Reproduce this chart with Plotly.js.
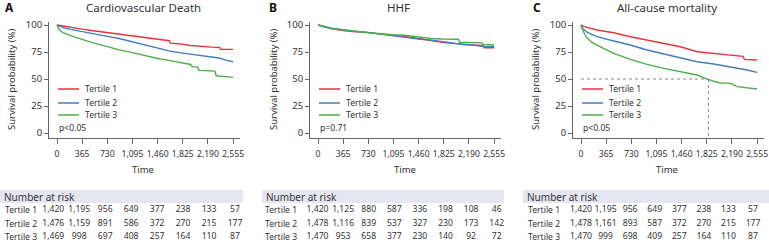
<!DOCTYPE html>
<html>
<head>
<meta charset="utf-8">
<script src="https://cdn.plot.ly/plotly-3.0.1.min.js"></script>
<style>html,body{margin:0;padding:0;background:#fff;}#chart{width:769px;height:243px;}</style>
</head>
<body>
<div id="chart"></div>
<script>
// ---------- DATA ----------
const timeTicks = [0, 365, 730, 1095, 1460, 1825, 2190, 2555];
const timeTickLabels = ['0', '365', '730', '1,095', '1,460', '1,825', '2,190', '2,555'];
const yTicks = [0, 25, 50, 75, 100];
const tertileNames = ['Tertile 1', 'Tertile 2', 'Tertile 3'];
const panelTitles = ['Cardiovascular Death', 'HHF', 'All-cause mortality'];
const panelLetters = ['A', 'B', 'C'];
const pValues = ['p<0.05', 'p=0.71', 'p<0.05'];

// Panel A: Cardiovascular death
const cvdT1Time = [0, 100, 200, 365, 500, 730, 900, 1095, 1250, 1400, 1550, 1630, 1645, 1800, 1930, 2100, 2250, 2360, 2375, 2555];
const cvdT1Surv = [100, 98.8, 97.8, 96.2, 95, 93, 91.6, 90, 88.6, 87.5, 86, 85.5, 83.2, 82.5, 81, 80, 79.5, 79.2, 77.5, 77.5];
const cvdT2Time = [0, 100, 200, 365, 500, 730, 900, 1095, 1250, 1460, 1640, 1825, 2000, 2190, 2350, 2450, 2555];
const cvdT2Surv = [100, 97.5, 96, 93.8, 92, 89.5, 87.5, 84.5, 81.8, 78.5, 75.8, 74, 72.5, 71, 69.5, 67.5, 66];
const cvdT3Time = [0, 20, 60, 120, 250, 365, 500, 730, 900, 1095, 1250, 1460, 1640, 1825, 1940, 1960, 2040, 2060, 2250, 2290, 2310, 2450, 2555];
const cvdT3Surv = [100, 97, 94, 92, 89, 86.5, 84, 80, 77, 74.5, 72, 69, 67, 64.5, 63.5, 61.5, 61, 58, 57.5, 57.3, 53, 52.5, 51.5];

// Panel B: HHF
const hhfT1Time = [0, 100, 200, 365, 500, 730, 900, 1095, 1250, 1460, 1640, 1800, 1950, 2100, 2250, 2390, 2410, 2555];
const hhfT1Surv = [100, 98, 96.5, 95, 94, 93, 92, 91, 89.5, 87.5, 85.5, 84, 83, 82, 81.5, 81.2, 79, 79];
const hhfT2Time = [0, 100, 200, 365, 500, 730, 900, 1095, 1250, 1460, 1640, 1800, 1950, 2100, 2250, 2400, 2555];
const hhfT2Surv = [100, 98.5, 97, 95.8, 94.5, 93, 91.5, 90, 88.5, 87, 86, 85, 83.5, 82, 81.5, 80, 80];
const hhfT3Time = [0, 100, 200, 365, 500, 730, 900, 1095, 1250, 1460, 1640, 1800, 2040, 2055, 2380, 2395, 2555];
const hhfT3Surv = [100, 98, 96.5, 95.5, 94.5, 93, 92, 91, 90.5, 89, 87.5, 87, 86.8, 84, 83.5, 82, 81.5];

// Panel C: All-cause mortality
const acmT1Time = [0, 50, 232, 474, 716, 958, 1200, 1442, 1684, 1926, 2168, 2350, 2370, 2555];
const acmT1Surv = [100, 98.5, 95.4, 92.9, 89.2, 86.1, 82.4, 79.9, 75.3, 73.8, 72.2, 71, 68.2, 67.6];
const acmT2Time = [0, 30, 97, 232, 474, 716, 958, 1200, 1442, 1684, 1926, 2168, 2410, 2555];
const acmT2Surv = [100, 96.5, 92.9, 89.2, 85.2, 81.5, 76.9, 73.1, 69.1, 66, 63.9, 61.4, 58.3, 56.2];
const acmT3Time = [0, 10, 24, 73, 145, 232, 474, 716, 958, 1200, 1442, 1684, 1839, 1997, 2168, 2265, 2555];
const acmT3Surv = [100, 98, 95.4, 89.2, 84.6, 81.5, 73.8, 68.2, 63.6, 59.9, 56.8, 53.7, 49.7, 46.6, 46, 42.9, 40.7];
const acmMedianTime = 1850; // green median survival (dashed guide)

// Number at risk
const riskCvd = [
  ['1,420', '1,195', '956', '649', '377', '238', '133', '57'],
  ['1,476', '1,159', '891', '586', '372', '270', '215', '177'],
  ['1,469', '998', '697', '408', '257', '164', '110', '87']
];
const riskHhf = [
  ['1,420', '1,125', '880', '587', '336', '198', '108', '46'],
  ['1,478', '1,116', '839', '537', '327', '230', '173', '142'],
  ['1,470', '953', '658', '377', '230', '140', '92', '72']
];
const riskAcm = [
  ['1,420', '1,195', '956', '649', '377', '238', '133', '57'],
  ['1,478', '1,161', '893', '587', '372', '270', '215', '177'],
  ['1,470', '999', '698', '409', '257', '164', '110', '87']
];

// ---------- STYLE / LAYOUT ----------
const W = 769, H = 243;
const colors = ['#e3363c', '#3f7fc0', '#4dae4a'];
const FONT = 'Noto Sans, sans-serif';
const txt = '#333';
const axisCol = '#666';

const panels = [
  {series: [[cvdT1Time, cvdT1Surv], [cvdT2Time, cvdT2Surv], [cvdT3Time, cvdT3Surv]], risk: riskCvd,
   axisPx: 49, tableRange: [-60, 2625], bandX: [0, 243], labelPx: 3, ytitlePx: 12, titlePx: 143.5, letterPx: 3, timePx: 143},
  {series: [[hhfT1Time, hhfT1Surv], [hhfT2Time, hhfT2Surv], [hhfT3Time, hhfT3Surv]], risk: riskHhf,
   axisPx: 310, tableRange: [-107, 2616], bandX: [262, 504], labelPx: 263, ytitlePx: 274, titlePx: 398, letterPx: 267, timePx: 405},
  {series: [[acmT1Time, acmT1Surv], [acmT2Time, acmT2Surv], [acmT3Time, acmT3Surv]], risk: riskAcm,
   axisPx: 573, tableRange: [-119, 2718], bandX: [523, 769], labelPx: 526, ytitlePx: 536, titlePx: 667, letterPx: 531, timePx: 667}
];

const plotW = 191; // px
const yDom = [(H - 138.4) / H, (H - 21.8) / H];
// table rows at ~210, 223.5, 237 px from top
const tableDom = [0, 43 / H];
const tableRange = [1 + 33 / 13.5, 1 - 10 / 13.5];

const traces = [];
const shapes = [];
const annotations = [];
const layout = {
  width: W, height: H,
  margin: {l: 0, r: 0, t: 0, b: 0},
  paper_bgcolor: '#fff', plot_bgcolor: 'rgba(0,0,0,0)',
  showlegend: false,
  font: {family: FONT, color: txt, size: 10}
};

panels.forEach((p, i) => {
  const n = i + 1;
  const xa = n === 1 ? 'x' : 'x' + n;
  const ya = n === 1 ? 'y' : 'y' + n;
  const xt = 'x' + (n + 3), yt = 'y' + (n + 3);
  const dom = [p.axisPx / W, (p.axisPx + plotW) / W];

  layout[n === 1 ? 'xaxis' : 'xaxis' + n] = {
    domain: dom, range: [-116, 2655], anchor: ya,
    tickmode: 'array', tickvals: timeTicks, ticktext: timeTickLabels, tickangle: 0,
    ticks: 'outside', ticklen: 5, tickcolor: axisCol, tickwidth: 1,
    showline: true, linecolor: axisCol, linewidth: 1,
    showgrid: false, zeroline: false, fixedrange: true,
    ticklabelstandoff: 2,
    tickfont: {family: FONT, size: 8.6, color: txt}
  };
  layout[n === 1 ? 'yaxis' : 'yaxis' + n] = {
    domain: yDom, range: [-5, 103], anchor: xa,
    tickmode: 'array', tickvals: yTicks,
    ticks: 'outside', ticklen: 4, tickcolor: axisCol, tickwidth: 1,
    showline: true, linecolor: axisCol, linewidth: 1,
    showgrid: false, zeroline: false, fixedrange: true,
    tickfont: {family: FONT, size: 9.5, color: txt}
  };
  layout['xaxis' + (n + 3)] = {domain: dom, range: p.tableRange, anchor: yt, visible: false, fixedrange: true};
  layout['yaxis' + (n + 3)] = {domain: tableDom, range: tableRange, anchor: xt, visible: false, fixedrange: true};

  // survival curves
  p.series.forEach((s, k) => {
    traces.push({
      type: 'scatter', mode: 'lines', x: s[0], y: s[1], xaxis: xa, yaxis: ya,
      line: {color: colors[k], width: 1.4}, name: tertileNames[k], hoverinfo: 'skip'
    });
  });

  // number at risk rows
  p.risk.forEach((row, k) => {
    traces.push({
      type: 'scatter', mode: 'text', x: timeTicks, y: row.map(() => k + 1), text: row,
      xaxis: xt, yaxis: yt, textposition: 'middle center', cliponaxis: false,
      textfont: {family: FONT, size: 8.6, color: txt}, hoverinfo: 'skip'
    });
    annotations.push({xref: 'paper', yref: yt, x: p.labelPx / W, y: k + 1, xanchor: 'left', yanchor: 'middle',
      text: tertileNames[k], showarrow: false, font: {family: FONT, size: 8.6, color: txt}});
  });

  // header band
  shapes.push({type: 'rect', xref: 'paper', yref: 'paper', x0: p.bandX[0] / W, x1: p.bandX[1] / W,
    y0: (H - 203) / H, y1: (H - 190) / H, fillcolor: '#e6e6f0', line: {width: 0}, layer: 'below'});
  annotations.push({xref: 'paper', yref: 'paper', x: (p.bandX[0] + 2) / W, y: (H - 196.5) / H,
    xanchor: 'left', yanchor: 'middle', text: 'Number at risk', showarrow: false,
    font: {family: FONT, size: 10, color: txt}});

  // legend (drawn inside the plot)
  const legY = [40.7, 27.8, 16.7];
  tertileNames.forEach((nm, k) => {
    shapes.push({type: 'line', xref: xa, yref: ya, x0: 15, x1: 320, y0: legY[k], y1: legY[k],
      line: {color: colors[k], width: 1.5}});
    annotations.push({xref: xa, yref: ya, x: 370, y: legY[k], xanchor: 'left', yanchor: 'middle',
      text: nm, showarrow: false, font: {family: FONT, size: 8.6, color: txt}});
  });
  // p-value
  annotations.push({xref: xa, yref: ya, x: 0, y: 4.6, xanchor: 'left', yanchor: 'middle',
    text: pValues[i], showarrow: false, font: {family: FONT, size: 8.6, color: txt}});

  // titles
  annotations.push({xref: 'paper', yref: 'paper', x: p.titlePx / W, y: (H - 8) / H, xanchor: 'center', yanchor: 'middle',
    text: panelTitles[i], showarrow: false, font: {family: FONT, size: 11.5, color: txt}});
  annotations.push({xref: 'paper', yref: 'paper', x: p.letterPx / W, y: (H - 8) / H, xanchor: 'left', yanchor: 'middle',
    text: '<b>' + panelLetters[i] + '</b>', showarrow: false, font: {family: FONT, size: 12, color: '#111'}});
  annotations.push({xref: 'paper', yref: 'paper', x: p.ytitlePx / W, y: (H - 79) / H, xanchor: 'center', yanchor: 'middle',
    textangle: -90, text: 'Survival probability (%)', showarrow: false, font: {family: FONT, size: 9.5, color: txt}});
  annotations.push({xref: 'paper', yref: 'paper', x: p.timePx / W, y: (H - 169) / H, xanchor: 'center', yanchor: 'middle',
    text: 'Time', showarrow: false, font: {family: FONT, size: 9.5, color: txt}});
});

// dashed median guide in panel C
shapes.push({type: 'line', xref: 'x3', yref: 'y3', x0: 0, x1: acmMedianTime, y0: 50, y1: 50,
  line: {color: '#888', width: 1, dash: 'dot'}});
shapes.push({type: 'line', xref: 'x3', yref: 'y3', x0: acmMedianTime, x1: acmMedianTime, y0: 50, y1: -5,
  line: {color: '#888', width: 1, dash: 'dot'}});

layout.shapes = shapes;
layout.annotations = annotations;

Plotly.newPlot('chart', traces, layout, {staticPlot: true, displayModeBar: false});
</script>
</body>
</html>
